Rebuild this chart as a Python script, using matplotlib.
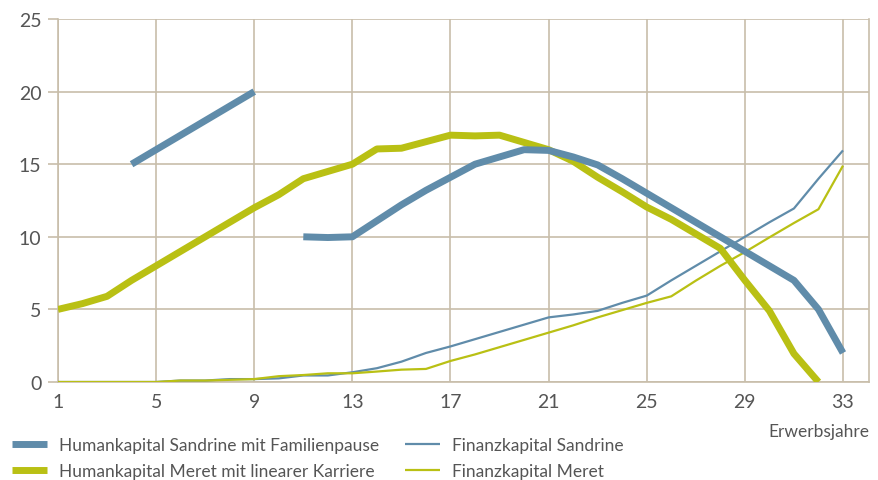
import matplotlib
matplotlib.use("Agg")
import matplotlib.pyplot as plt
from matplotlib.lines import Line2D

years_h_s1 = [4, 5, 6, 7, 8, 9]
human_sandrine_1 = [15, 16, 17, 18, 19, 20]
years_h_s2 = list(range(11, 34))
human_sandrine_2 = [10, 9.95, 10, 11.1, 12.2, 13.2, 14.1, 15.0, 15.5, 16.0, 15.95,
                    15.5, 14.95, 14.0, 13.0, 12.0, 11.0, 10.0, 9.0, 8.0, 7.0, 5.0, 2.0]
years_h_m = list(range(1, 33))
human_meret = [5, 5.4, 5.9, 7, 8, 9, 10, 11, 12, 12.9, 14.0, 14.5, 15.0, 16.05, 16.1,
               16.55, 17.0, 16.95, 17.0, 16.5, 16.0, 15.2, 14.1, 13.1, 12.05, 11.2,
               10.2, 9.2, 7.0, 4.9, 1.95, 0]
years_f = list(range(1, 34))
fin_sandrine = [0, 0, 0, 0, 0, 0.1, 0.1, 0.2, 0.2, 0.25, 0.45, 0.45, 0.67, 0.95, 1.4,
                2.0, 2.45, 2.95, 3.45, 3.95, 4.45, 4.65, 4.9, 5.45, 5.95, 7.0, 8.0,
                9.0, 10.0, 11.0, 11.95, 14.0, 15.95]
fin_meret = [0, 0, 0, 0, 0, 0.1, 0.1, 0.15, 0.2, 0.4, 0.48, 0.6, 0.6, 0.72, 0.85,
             0.9, 1.45, 1.9, 2.4, 2.9, 3.4, 3.9, 4.45, 4.95, 5.45, 5.9, 6.98, 8.0,
             8.95, 9.96, 10.95, 11.9, 14.9]

x_ticks = [1, 5, 9, 13, 17, 21, 25, 29, 33]
y_ticks = [0, 5, 10, 15, 20, 25]
labels = ["Humankapital Sandrine mit Familienpause",
          "Humankapital Meret mit linearer Karriere",
          "Finanzkapital Sandrine",
          "Finanzkapital Meret"]
x_label = "Erwerbsjahre"

BLUE = "#608caa"
GREEN = "#b9c014"
GRID = "#c8beaa"
TEXT = "#555555"
FONT = ["Lato", "DejaVu Sans"]

plt.rcParams["font.family"] = FONT
plt.rcParams["font.weight"] = "normal"

fig = plt.figure(figsize=(8.79, 4.81), dpi=100)
ax = fig.add_axes([58 / 879, 1 - 383 / 481, (869 - 58) / 879, (383 - 20) / 481])

thick = 5.0
thin = 1.6
ax.plot(years_f, fin_sandrine, color=BLUE, lw=thin, solid_capstyle="butt", zorder=3)
ax.plot(years_f, fin_meret, color=GREEN, lw=thin, solid_capstyle="butt", zorder=3)
ax.plot(years_h_m, human_meret, color=GREEN, lw=thick, solid_capstyle="butt", zorder=4)
ax.plot(years_h_s1, human_sandrine_1, color=BLUE, lw=thick, solid_capstyle="butt", zorder=5)
ax.plot(years_h_s2, human_sandrine_2, color=BLUE, lw=thick, solid_capstyle="butt", zorder=5)

ax.set_xlim(1, 34.06)
ax.set_ylim(0, 25)
ax.set_xticks(x_ticks)
ax.set_yticks(y_ticks)
ax.grid(True, color=GRID, lw=1.2, zorder=1)
ax.set_axisbelow(True)
ax.spines["top"].set_visible(False)
for s in ["left", "right", "bottom"]:
    ax.spines[s].set_color(GRID)
    ax.spines[s].set_linewidth(1.2)
ax.tick_params(axis="y", length=7, color=GRID, width=1.2, pad=5, labelsize=14, labelcolor=TEXT)
ax.tick_params(axis="x", length=0, pad=8, labelsize=14, labelcolor=TEXT)

fig.text(869 / 879, 1 - 432 / 481, x_label, ha="right", va="center",
         fontsize=12.5, color=TEXT)

h = [Line2D([], [], color=BLUE, lw=thick, solid_capstyle="butt"),
     Line2D([], [], color=GREEN, lw=thick, solid_capstyle="butt"),
     Line2D([], [], color=BLUE, lw=thin, solid_capstyle="butt"),
     Line2D([], [], color=GREEN, lw=thin, solid_capstyle="butt")]
common = dict(frameon=False, fontsize=12.5, handlelength=2.0, handletextpad=0.7,
              labelspacing=0.6, borderpad=0, borderaxespad=0, labelcolor=TEXT)
leg1 = fig.legend(h[:2], labels[:2], loc="upper left",
                  bbox_to_anchor=(12 / 879, 1 - 438 / 481), **common)
leg2 = fig.legend(h[2:], labels[2:], loc="upper left",
                  bbox_to_anchor=(405 / 879, 1 - 438 / 481), **common)

fig.savefig("out.png", dpi=100)
